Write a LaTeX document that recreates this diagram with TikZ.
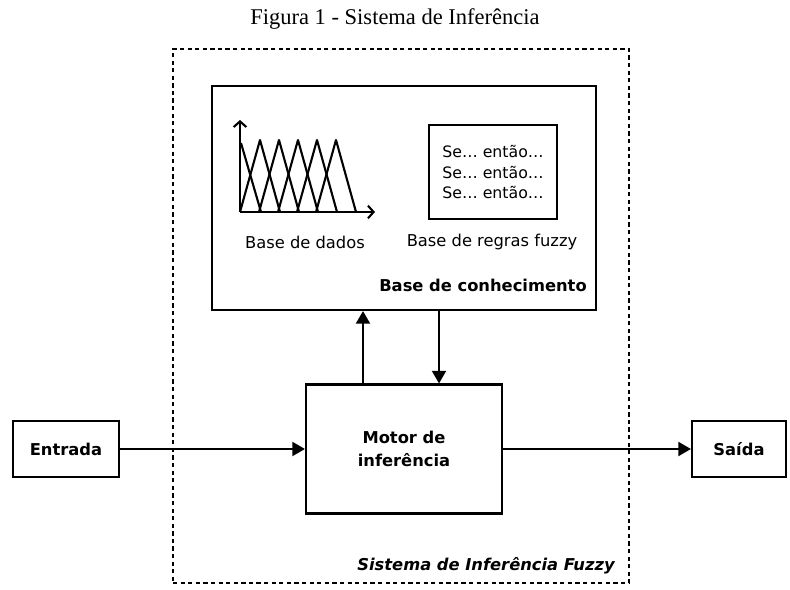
\documentclass[tikz,border=0pt]{standalone}
\usepackage{fontspec}
\setmainfont{Liberation Serif}
\newfontfamily\dejavu{DejaVu Sans}
\usetikzlibrary{arrows.meta}

\begin{document}
\begin{tikzpicture}[x=0.025cm,y=-0.025cm]
      \tikzset{
        every node/.style={inner sep=0pt,font=\dejavu\fontsize{11.6}{14}\selectfont},
        box/.style={draw,line width=1.5pt,align=center},
        boldtext/.style={font=\dejavu\bfseries\fontsize{11.6}{16.4}\selectfont},
        arr/.style={line width=1.5pt,-{Triangle[length=9pt,width=10pt]}},
        curve/.style={line width=1.5pt,line join=round}
      }
      \useasboundingbox (0,0) rectangle (790,590);

      \node[font=\fontsize{16}{19}\selectfont] (title) at (395,19) {Figura 1 - Sistema de Inferência};

      % sistema de inferencia (dashed)
      \node[box,minimum width=11.4cm,minimum height=13.35cm,line width=1.8pt,dash pattern=on 3pt off 2.4pt] (sif) at (401,316) {};
      \node[boldtext,font=\dejavu\bfseries\itshape\fontsize{11.6}{14}\selectfont,anchor=east] (sifl) at (615,566) {Sistema de Inferência Fuzzy};

      % base de conhecimento
      \node[box,minimum width=9.6cm,minimum height=5.6cm] (kb) at (404,198) {};
      \node[box,minimum width=3.2cm,minimum height=2.35cm,font=\dejavu\fontsize{11.2}{14.6}\selectfont] (rules) at (493,172) {Se… então…\\Se… então…\\Se… então…};
      \node (dados) at (305,242) {Base de dados};
      \node (regras) at (492,242) {Base de regras fuzzy};
      \node[boldtext,anchor=east] (kbl) at (587,285) {Base de conhecimento};

      % funcoes de pertinencia
      \draw[curve,-{Straight Barb[length=4pt,width=9pt]}] (240,212) -- (240,120);
      \draw[curve,-{Straight Barb[length=4pt,width=9pt]}] (240,212) -- (375,212);
      \draw[curve] (241,143) -- (261,212);
      \foreach \p in {260,279,298,317,336}
        \draw[curve] (\p-20,212) -- (\p,140) -- (\p+20,212);

      \node[box,boldtext,minimum width=4.9cm,minimum height=3.225cm] (mot) at (404,449) {Motor de\\inferência};
      \node[box,boldtext,minimum width=2.65cm,minimum height=1.4cm] (ent) at (66,449) {Entrada};
      \node[box,boldtext,minimum width=2.35cm,minimum height=1.4cm] (sai) at (739,449) {Saída};

      \draw[arr] (ent) -- (mot);
      \draw[arr] (mot) -- (sai);
      \draw[arr] ([xshift=-1.025cm]mot.north) -- ([xshift=-1.025cm]kb.south);
      \draw[arr] ([xshift=0.875cm]kb.south) -- ([xshift=0.875cm]mot.north);
\end{tikzpicture}
\end{document}
